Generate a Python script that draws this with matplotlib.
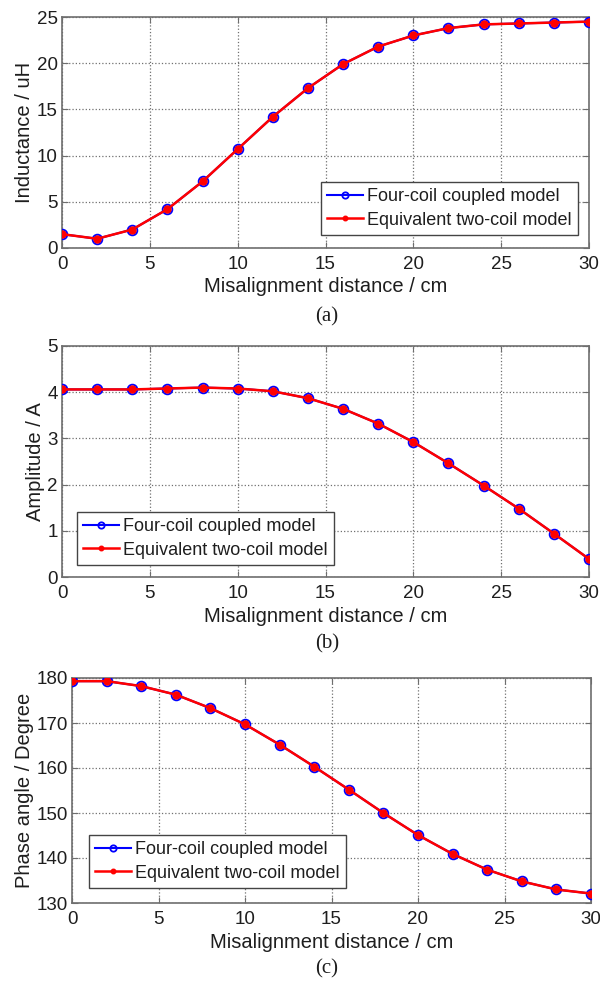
import matplotlib
matplotlib.use("Agg")
import matplotlib.pyplot as plt
import numpy as np

plt.rcParams['font.family'] = ['Liberation Sans', 'DejaVu Sans']

distance = [0, 2, 4, 6, 8, 10, 12, 14, 16, 18, 20, 22, 24, 26, 28, 30]

inductance_four = [1.5, 1.0, 2.0, 4.2, 7.2, 10.7, 14.2, 17.3, 19.9, 21.8, 23.0, 23.8, 24.2, 24.3, 24.4, 24.5]
inductance_two = [1.5, 1.0, 2.0, 4.2, 7.2, 10.7, 14.2, 17.3, 19.9, 21.8, 23.0, 23.8, 24.2, 24.3, 24.4, 24.5]

amplitude_four = [4.06, 4.06, 4.06, 4.08, 4.10, 4.08, 4.02, 3.87, 3.64, 3.32, 2.92, 2.46, 1.98, 1.48, 0.94, 0.39]
amplitude_two = [4.06, 4.06, 4.06, 4.08, 4.10, 4.08, 4.02, 3.87, 3.64, 3.32, 2.92, 2.46, 1.98, 1.48, 0.94, 0.39]

phase_four = [179.3, 179.3, 178.2, 176.3, 173.3, 169.7, 165.2, 160.3, 155.2, 150.0, 145.1, 140.9, 137.4, 134.8, 133.0, 132.1]
phase_two = [179.3, 179.3, 178.2, 176.3, 173.3, 169.7, 165.2, 160.3, 155.2, 150.0, 145.1, 140.9, 137.4, 134.8, 133.0, 132.1]

series_labels = ["Four-coil coupled model", "Equivalent two-coil model"]
xlabel = "Misalignment distance / cm"
ylabels = ["Inductance / uH", "Amplitude / A", "Phase angle / Degree"]
captions = ["(a)", "(b)", "(c)"]

W, H = 600, 983
fig = plt.figure(figsize=(W / 100, H / 100), dpi=100)

def rect(l, t, r, b):
    return [l / W, (H - b) / H, (r - l) / W, (b - t) / H]

axes_rects = [rect(62, 17, 589, 248), rect(62, 346, 589, 577), rect(72, 678, 591, 903)]
ylims = [(0, 25), (0, 5), (130, 180)]
yticks = [np.arange(0, 26, 5), np.arange(0, 6, 1), np.arange(130, 181, 10)]
data = [(inductance_four, inductance_two), (amplitude_four, amplitude_two), (phase_four, phase_two)]
leg_loc = ['lower right', 'lower left', 'lower left']
leg_anchor = [(1 - 11 / 527, 13 / 231), (15 / 527, 12 / 231), (17 / 519, 15 / 225)]
caption_y = [317, 644, 969]

spine_color = '#6e6e6e'
text_color = '#1e1e1e'
for i in range(3):
    ax = fig.add_axes(axes_rects[i])
    s1, s2 = data[i]
    ax.plot(distance, s1, color='blue', marker='o', markersize=7, markerfacecolor='none',
            markeredgewidth=1.3, linewidth=1.5, label=series_labels[0], zorder=3)
    ax.plot(distance, s2, color='red', marker='.', markersize=10, linewidth=1.8,
            label=series_labels[1], zorder=4)
    ax.set_xlim(0, 30)
    ax.set_ylim(*ylims[i])
    ax.set_xticks(np.arange(0, 31, 5))
    ax.set_yticks(yticks[i])
    ax.grid(True, linestyle=':', color='#707070', linewidth=0.9)
    ax.tick_params(direction='in', labelsize=13.5, length=4, color=spine_color,
                   labelcolor=text_color, top=True, right=True)
    ax.tick_params(axis='x', pad=6)
    ax.tick_params(axis='y', pad=3)
    for sp in ax.spines.values():
        sp.set_color(spine_color)
        sp.set_linewidth(1.2)
    ax.set_xlabel(xlabel, fontsize=14.5, labelpad=3, color=text_color)
    ax.set_ylabel(ylabels[i], fontsize=14.5, labelpad=2, color=text_color)
    leg = ax.legend(loc=leg_loc[i], bbox_to_anchor=leg_anchor[i], borderaxespad=0,
                    fontsize=13, fancybox=False, framealpha=1, edgecolor='#444444',
                    handlelength=2.0, handletextpad=0.2, borderpad=0.35, labelspacing=0.35,
                    markerscale=0.65)
    for t in leg.get_texts():
        t.set_color(text_color)
    leg.get_frame().set_linewidth(1.0)
    fig.text(0.545, 1 - caption_y[i] / H, captions[i], ha='center', va='center',
             fontsize=15, family=['Liberation Serif', 'DejaVu Serif'], color=text_color)

fig.savefig("out.png", dpi=100)
